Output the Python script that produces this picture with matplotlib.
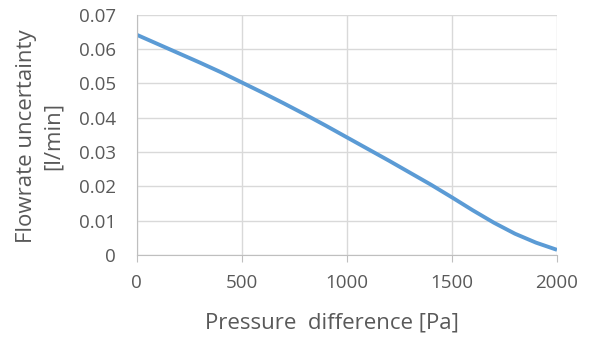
from matplotlib import pyplot as plt
import numpy as np

# valores
pressure = [0, 100, 200, 300, 400, 500, 600, 700, 800, 900, 1000,
            1100, 1200, 1300, 1400, 1500, 1600, 1700, 1800, 1900, 2000]
uncertainty = [0.0642, 0.0615, 0.0588, 0.0561, 0.0533, 0.0503, 0.0473, 0.0442,
               0.0410, 0.0377, 0.0343, 0.0309, 0.0275, 0.0240, 0.0205, 0.0168,
               0.0130, 0.0094, 0.0062, 0.0036, 0.0015]
xticks = [0, 500, 1000, 1500, 2000]
yticks = [0, 0.01, 0.02, 0.03, 0.04, 0.05, 0.06, 0.07]

plt.rcParams['font.family'] = ['Open Sans', 'DejaVu Sans']
text_color = '#595959'

fig = plt.figure(figsize=(5.97, 3.38), dpi=100)
ax = fig.add_axes([0.229, 0.2456, 0.704, 0.7104])

ax.plot(pressure, uncertainty, color='#5B9BD5', lw=2.8, solid_capstyle='butt',
        solid_joinstyle='round')

ax.set_xlim(0, 2000)
ax.set_ylim(0, 0.07)
ax.set_xticks(xticks)
ax.set_yticks(yticks)
ax.set_xticklabels([str(v) for v in xticks])
ax.set_yticklabels(['0'] + ['%.2f' % v for v in yticks[1:]])

ax.grid(True, color='#D9D9D9', lw=1)
ax.set_axisbelow(True)
for s in ['top', 'right']:
    ax.spines[s].set_visible(False)
ax.spines['left'].set_color('#BFBFBF')
ax.spines['bottom'].set_color('#BFBFBF')

ax.tick_params(axis='x', direction='out', length=5, color='#BFBFBF',
               labelsize=13.5, labelcolor=text_color, pad=9)
ax.tick_params(axis='y', length=0, labelsize=13.5, labelcolor=text_color, pad=15)

fig.text(332 / 597, 1 - 323 / 338, 'Pressure  difference [Pa]', fontsize=16,
         color=text_color, ha='center', va='center')
fig.text(40 / 597, 1 - 136 / 338, 'Flowrate uncertainty\n[l/min]', fontsize=16,
         color=text_color, ha='center', va='center', rotation=90,
         multialignment='center', linespacing=1.35)

fig.savefig('out.png', dpi=100)
